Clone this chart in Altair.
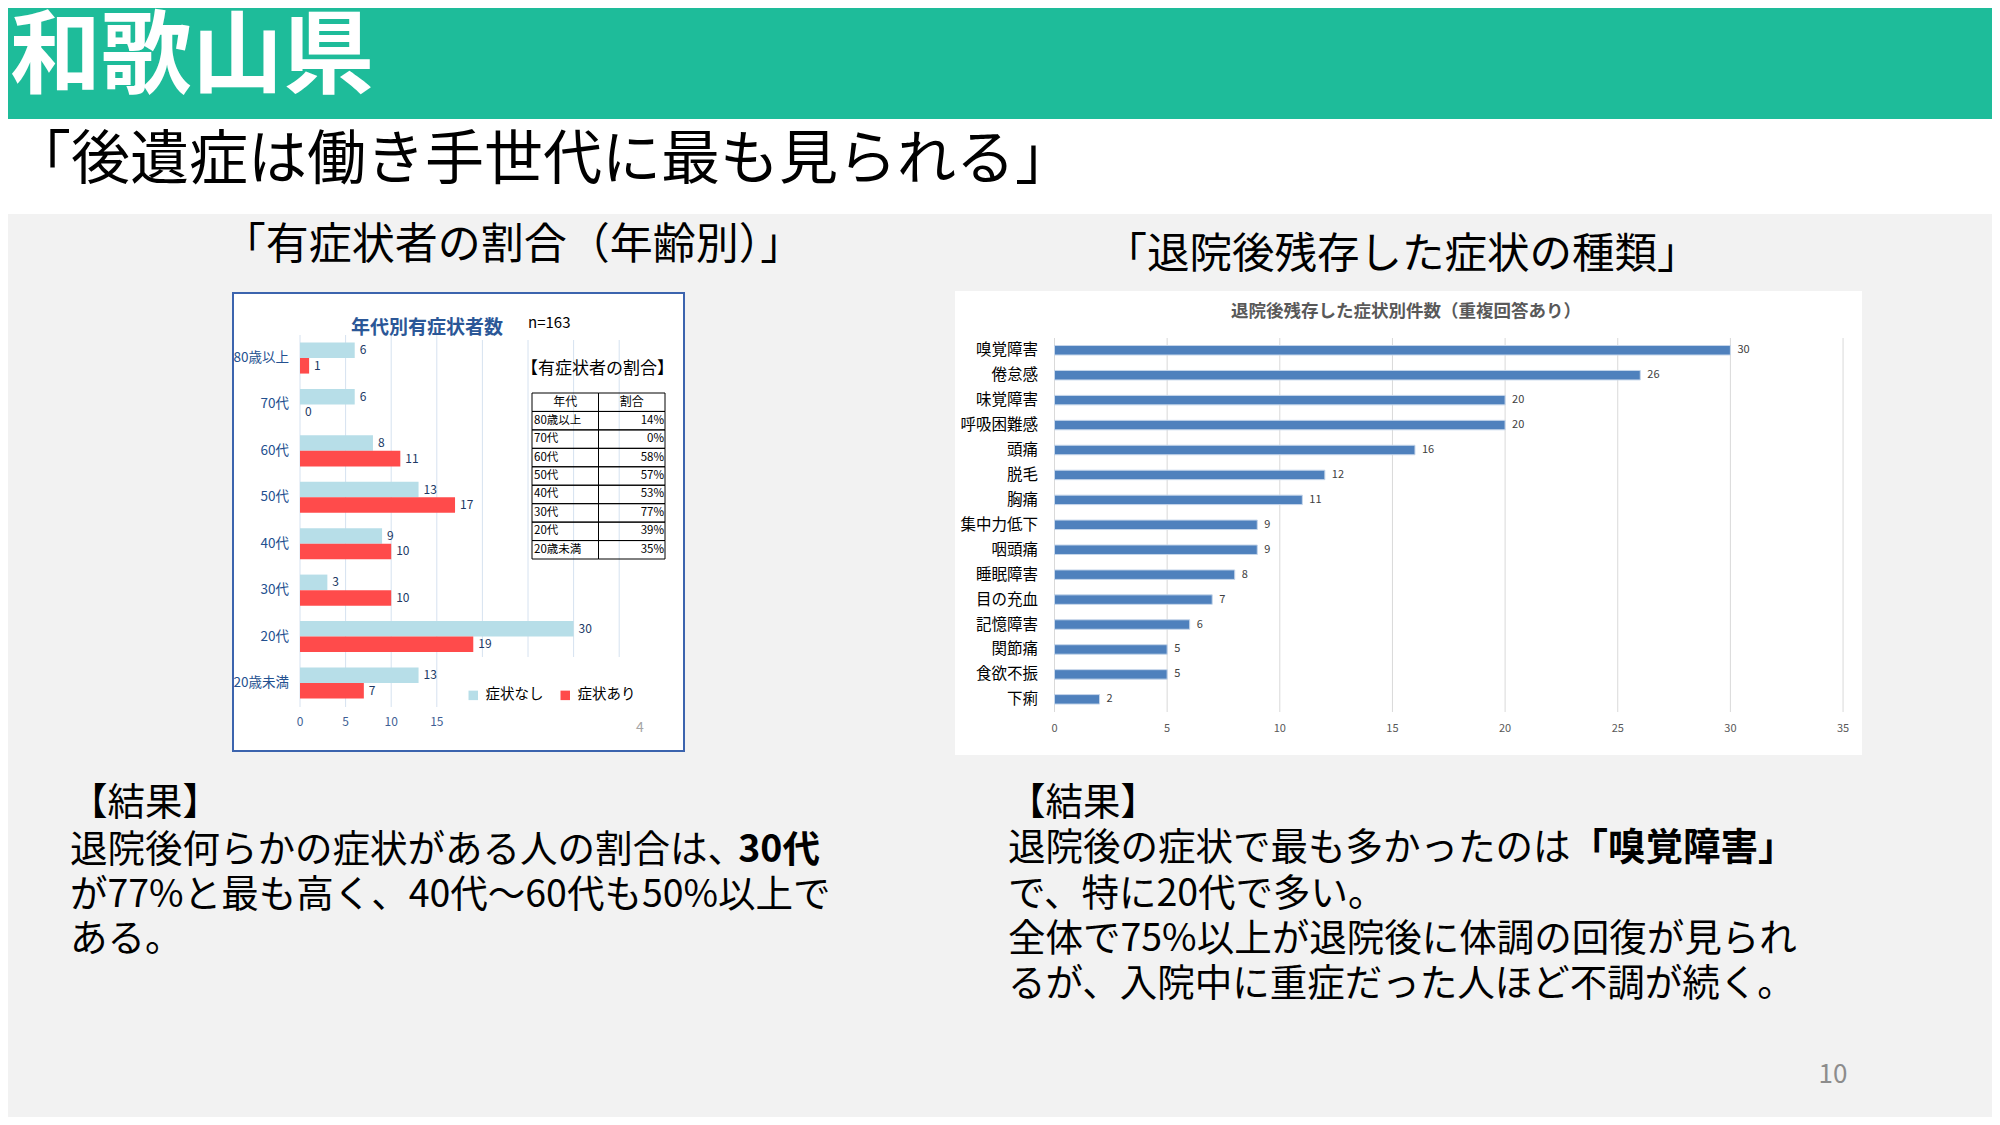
import altair as alt
import pandas as pd

FONT = "Noto Sans CJK JP"
OX, OY = 8, 8
W, H = 1984, 1109

# ---------------- data ----------------
ages = ["80歳以上", "70代", "60代", "50代", "40代", "30代", "20代", "20歳未満"]
no_symptom = [6, 6, 8, 13, 9, 3, 30, 13]
with_symptom = [1, 0, 11, 17, 10, 10, 19, 7]
series_names = ["症状なし", "症状あり"]
ratio_labels = ["14%", "0%", "58%", "57%", "53%", "77%", "39%", "35%"]
table_cols = ["年代", "割合"]
left_ticks = [0, 5, 10, 15]
left_grid_extra = [20, 25, 30, 35]

symptoms = ["嗅覚障害", "倦怠感", "味覚障害", "呼吸困難感", "頭痛", "脱毛", "胸痛",
            "集中力低下", "咽頭痛", "睡眠障害", "目の充血", "記憶障害", "関節痛",
            "食欲不振", "下痢"]
counts = [30, 26, 20, 20, 16, 12, 11, 9, 9, 8, 7, 6, 5, 5, 2]
right_ticks = [0, 5, 10, 15, 20, 25, 30, 35]

left_result_lines = [
    ("退院後何らかの症状がある人の割合は、", "30代"),
    ("が77%と最も高く、40代～60代も50%以上で", ""),
    ("ある。", ""),
]
right_result_lines = [
    ("退院後の症状で最も多かったのは", "「嗅覚障害」"),
    ("で、特に20代で多い。", ""),
    ("全体で75%以上が退院後に体調の回復が見られ", ""),
    ("るが、入院中に重症だった人ほど不調が続く。", ""),
]


def px(v):
    return v - OX


def py(v):
    return v - OY


one = pd.DataFrame({"k": [0]})


def rect(x0, y0, x1, y1, fill, stroke=None, sw=0):
    kw = dict(fill=fill)
    if stroke:
        kw.update(stroke=stroke, strokeWidth=sw)
    else:
        kw.update(strokeWidth=0)
    return alt.Chart(one).mark_rect(**kw).encode(
        x=alt.value(px(x0)), x2=alt.value(px(x1)),
        y=alt.value(py(y0)), y2=alt.value(py(y1)))


def txt(s, x, cy, size, color="#000000", weight="normal", align="left"):
    return alt.Chart(pd.DataFrame({"t": [s]})).mark_text(
        align=align, baseline="alphabetic", font=FONT, fontSize=size,
        fontWeight=weight, color=color
    ).encode(text="t:N", x=alt.value(px(x)), y=alt.value(py(cy + 0.38 * size)))


layers = []

# ---------------- backgrounds ----------------
layers.append(rect(0, 0, 2000, 119, "#1ebc9a"))
layers.append(rect(0, 119, 2000, 214, "#ffffff"))
layers.append(txt("和歌山県", 10, 51, 91, color="#ffffff", weight="bold"))
layers.append(txt("「後遺症は働き手世代に最も見られる」", 12, 157, 59))
layers.append(txt("「有症状者の割合（年齢別）」", 513, 243, 43, align="center"))
layers.append(txt("「退院後残存した症状の種類」", 1402, 252, 42.5, align="center"))

# ---------------- left chart ----------------
layers.append(rect(233, 293, 684, 751, "#ffffff", stroke="#3c64ae", sw=2))

left_df = pd.DataFrame({
    "age": ages * 2,
    "series": [series_names[0]] * len(ages) + [series_names[1]] * len(ages),
    "value": no_symptom + with_symptom,
})
L0, LU = 300, 9.12
lx = alt.Scale(domain=[0, 35], range=[px(L0), px(L0 + 35 * LU)])
ly = alt.Scale(domain=ages, range=[py(334.8), py(706.2)], paddingInner=0.33, paddingOuter=0.165)
loff = alt.Scale(domain=series_names, paddingInner=0, paddingOuter=0)

l_grid_full = alt.Chart(pd.DataFrame({"v": left_ticks})).mark_rule(color="#d6e2f0", strokeWidth=1).encode(
    x=alt.X("v:Q", scale=lx, axis=None), y=alt.value(py(335)), y2=alt.value(py(707)))
l_grid_short = alt.Chart(pd.DataFrame({"v": left_grid_extra})).mark_rule(color="#d6e2f0", strokeWidth=1).encode(
    x=alt.X("v:Q", scale=lx, axis=None), y=alt.value(py(340)), y2=alt.value(py(657)))
l_bars = alt.Chart(left_df).mark_bar().encode(
    x=alt.X("value:Q", scale=lx, axis=None),
    y=alt.Y("age:N", scale=ly, axis=None),
    yOffset=alt.YOffset("series:N", scale=loff),
    color=alt.Color("series:N",
                    scale=alt.Scale(domain=series_names, range=["#b7dee8", "#ff4b4b"]),
                    legend=alt.Legend(orient="none", legendX=px(466), legendY=py(688),
                                      direction="horizontal", title=None, symbolType="square",
                                      symbolSize=90, symbolStrokeWidth=0, labelFont=FONT,
                                      labelFontSize=14.5, labelColor="#000000", labelOffset=5,
                                      columnPadding=14, padding=0)),
)
l_vals = alt.Chart(left_df).mark_text(align="left", baseline="middle", dx=5, font=FONT,
                                      fontSize=12, color="#203864").encode(
    x=alt.X("value:Q", scale=lx, axis=None),
    y=alt.Y("age:N", scale=ly, axis=None),
    yOffset=alt.YOffset("series:N", scale=loff),
    text="value:Q")
l_cats = alt.Chart(pd.DataFrame({"age": ages})).mark_text(align="right", baseline="middle", font=FONT,
                                                          fontSize=13.5, color="#23508f").encode(
    y=alt.Y("age:N", scale=ly, axis=None), x=alt.value(px(289)), text="age:N")
l_ticks = alt.Chart(pd.DataFrame({"v": left_ticks})).mark_text(baseline="alphabetic", font=FONT,
                                                               fontSize=12, color="#3f5f95").encode(
    x=alt.X("v:Q", scale=lx, axis=None), y=alt.value(py(722 + 0.36 * 12)), text="v:Q")
layers.append(alt.layer(l_grid_full, l_grid_short, l_bars, l_vals, l_cats, l_ticks))

layers.append(txt("年代別有症状者数", 427, 327, 19, color="#2b5797", weight="bold", align="center"))
layers.append(txt("n=163", 528, 322, 15))
layers.append(txt("【有症状者の割合】", 521, 368, 17))
layers.append(txt("4", 640, 727, 14, color="#a6a6a6", align="center"))

# table
rows = ["年代"] + ages
cells = pd.DataFrame([(r, c) for r in rows for c in table_cols], columns=["row", "col"])
tx = alt.Scale(domain=table_cols, range=[px(532), px(665)], paddingInner=0, paddingOuter=0)
ty = alt.Scale(domain=rows, range=[py(393), py(559)], paddingInner=0, paddingOuter=0)
t_cells = alt.Chart(cells).mark_rect(fill="#ffffff", fillOpacity=0, stroke="#000000", strokeWidth=1).encode(
    x=alt.X("col:N", scale=tx, axis=None), y=alt.Y("row:N", scale=ty, axis=None))
t_head = alt.Chart(pd.DataFrame({"col": table_cols, "row": ["年代", "年代"], "t": table_cols})).mark_text(
    align="center", baseline="middle", font=FONT, fontSize=12, color="#000000").encode(
    x=alt.X("col:N", scale=tx, axis=None), y=alt.Y("row:N", scale=ty, axis=None), text="t:N")
t_c1 = alt.Chart(pd.DataFrame({"col": ["年代"] * len(ages), "row": ages, "t": ages})).mark_text(
    align="left", baseline="middle", dx=2, font=FONT, fontSize=11.5, color="#000000").encode(
    x=alt.X("col:N", scale=tx, axis=None, bandPosition=0), y=alt.Y("row:N", scale=ty, axis=None), text="t:N")
t_c2 = alt.Chart(pd.DataFrame({"col": ["割合"] * len(ages), "row": ages, "t": ratio_labels})).mark_text(
    align="right", baseline="middle", dx=-1, font=FONT, fontSize=11.5, color="#000000").encode(
    x=alt.X("col:N", scale=tx, axis=None, bandPosition=1), y=alt.Y("row:N", scale=ty, axis=None), text="t:N")
layers.append(alt.layer(t_cells, t_head, t_c1, t_c2))

# ---------------- right chart ----------------
layers.append(rect(955, 291, 1862, 755, "#ffffff"))
right_df = pd.DataFrame({"symptom": symptoms, "count": counts})
R0, RU = 1054.5, 22.53
rx = alt.Scale(domain=[0, 35], range=[px(R0), px(R0 + 35 * RU)])
ry = alt.Scale(domain=symptoms, range=[py(337.8), py(711.8)], paddingInner=0.62, paddingOuter=0.31)

r_grid = alt.Chart(pd.DataFrame({"v": right_ticks})).mark_rule(color="#d9d9d9", strokeWidth=1).encode(
    x=alt.X("v:Q", scale=rx, axis=None), y=alt.value(py(338)), y2=alt.value(py(712)))
r_bars = alt.Chart(right_df).mark_bar(color="#4f81bd", stroke="#c6d6ea", strokeWidth=1).encode(
    x=alt.X("count:Q", scale=rx, axis=None), y=alt.Y("symptom:N", scale=ry, axis=None))
r_vals = alt.Chart(right_df).mark_text(align="left", baseline="middle", dx=7, font=FONT,
                                       fontSize=11, color="#404040").encode(
    x=alt.X("count:Q", scale=rx, axis=None), y=alt.Y("symptom:N", scale=ry, axis=None), text="count:Q")
r_cats = alt.Chart(right_df).mark_text(align="right", baseline="middle", font=FONT,
                                       fontSize=15.5, color="#000000").encode(
    y=alt.Y("symptom:N", scale=ry, axis=None), x=alt.value(px(1038)), text="symptom:N")
r_ticks = alt.Chart(pd.DataFrame({"v": right_ticks})).mark_text(baseline="alphabetic", font=FONT,
                                                                fontSize=11, color="#595959").encode(
    x=alt.X("v:Q", scale=rx, axis=None), y=alt.value(py(728 + 0.36 * 11)), text="v:Q")
layers.append(alt.layer(r_grid, r_bars, r_vals, r_cats, r_ticks))
layers.append(txt("退院後残存した症状別件数（重複回答あり）", 1406, 310, 17.5, color="#595959",
                  weight="bold", align="center"))

# ---------------- results text ----------------
RS = 37.5
layers.append(txt("【結果】", 70, 801, RS))
for (reg, bold), cy in zip(left_result_lines, [848, 893, 937]):
    layers.append(txt(reg, 70, cy, RS))
    if bold:
        layers.append(txt(bold, 70 + len(reg) * RS * 0.99, cy, RS, weight="bold"))
layers.append(txt("【結果】", 1008, 801, RS))
for (reg, bold), cy in zip(right_result_lines, [846, 892, 937, 982]):
    layers.append(txt(reg, 1008, cy, RS))
    if bold:
        layers.append(txt(bold, 1008 + len(reg) * RS, cy, RS, weight="bold"))

layers.append(txt("10", 1833, 1073, 26, color="#8c8c8c", align="center"))

chart = alt.layer(*layers).resolve_scale(
    x="independent", y="independent"
).properties(
    width=W, height=H, padding=0, background="#f2f2f2",
    autosize=alt.AutoSizeParams(type="none"),
).configure_view(strokeWidth=0)

chart.save("out.html", embed_options={"renderer": "svg", "actions": False})
